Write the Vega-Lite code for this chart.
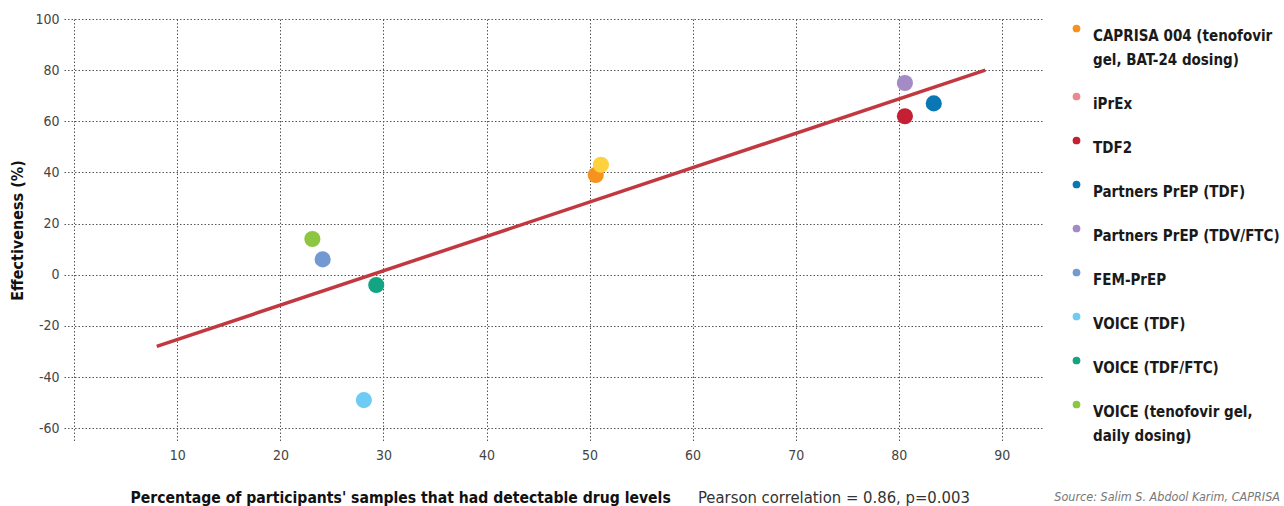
{
  "$schema": "https://vega.github.io/schema/vega-lite/v6.json",
  "width": 979,
  "height": 422,
  "padding": {"left": 9, "top": 12, "right": 0, "bottom": 0},
  "background": "white",
  "config": {
    "font": "DejaVu Sans Condensed, Roboto",
    "view": {"stroke": null},
    "style": {"guide-label": {"lineHeight": 24}},
    "axis": {
      "domain": false,
      "ticks": false,
      "grid": true,
      "gridColor": "#555555",
      "gridDash": [1.5, 2],
      "gridWidth": 1,
      "labelFont": "DejaVu Sans Condensed, Roboto",
      "labelFontSize": 14,
      "labelColor": "#444444",
      "titleFont": "DejaVu Sans Condensed, Roboto",
      "titleFontSize": 16,
      "titleFontWeight": "bold",
      "titleColor": "#111111"
    }
  },
  "title": {
    "text": "Pearson correlation = 0.86, p=0.003",
    "orient": "bottom",
    "anchor": "start",
    "dx": 688,
    "offset": -16,
    "font": "DejaVu Sans Condensed, Roboto",
    "fontSize": 16.5,
    "fontWeight": "normal",
    "color": "#333333"
  },
  "datasets": {
    "studies": [
      {"study": "CAPRISA 004 (tenofovir gel, BAT-24 dosing)", "detectable": 50.6, "effectiveness": 39},
      {"study": "iPrEx", "detectable": 51.1, "effectiveness": 43},
      {"study": "TDF2", "detectable": 80.6, "effectiveness": 62},
      {"study": "Partners PrEP (TDF)", "detectable": 83.4, "effectiveness": 67},
      {"study": "Partners PrEP (TDV/FTC)", "detectable": 80.6, "effectiveness": 75},
      {"study": "FEM-PrEP", "detectable": 24.1, "effectiveness": 6},
      {"study": "VOICE (TDF)", "detectable": 28.1, "effectiveness": -49},
      {"study": "VOICE (TDF/FTC)", "detectable": 29.3, "effectiveness": -4},
      {"study": "VOICE (tenofovir gel, daily dosing)", "detectable": 23.1, "effectiveness": 14}
    ],
    "fit": [
      {"detectable": 8, "effectiveness": -28},
      {"detectable": 88.4, "effectiveness": 80}
    ]
  },
  "layer": [
    {
      "data": {"name": "fit"},
      "mark": {"type": "line", "color": "#C1393F", "strokeWidth": 3.5},
      "encoding": {
        "x": {
          "field": "detectable",
          "type": "quantitative",
          "scale": {"domain": [-1, 94], "nice": false, "zero": false},
          "axis": {
            "values": [0, 10, 20, 30, 40, 50, 60, 70, 80, 90],
            "labelExpr": "datum.value == 0 ? '' : datum.label",
            "labelPadding": 7,
            "title": "Percentage of participants' samples that had detectable drug levels",
            "titleFontSize": 15.6,
            "titleAnchor": "start",
            "titleAlign": "left",
            "titleX": 66,
            "titleY": 61,
            "titleBaseline": "alphabetic"
          }
        },
        "y": {
          "field": "effectiveness",
          "type": "quantitative",
          "scale": {"domain": [-65, 100], "nice": false, "zero": false},
          "axis": {
            "values": [-60, -40, -20, 0, 20, 40, 60, 80, 100],
            "labelExpr": "replace(datum.label, '\u2212', '-')",
            "labelPadding": 5,
            "titlePadding": 9,
            "title": "Effectiveness (%)"
          }
        }
      }
    },
    {
      "data": {"name": "studies"},
      "mark": {"type": "circle", "size": 260, "opacity": 1},
      "encoding": {
        "x": {"field": "detectable", "type": "quantitative"},
        "y": {"field": "effectiveness", "type": "quantitative"},
        "color": {
          "field": "study",
          "type": "nominal",
          "scale": {
            "domain": ["CAPRISA 004 (tenofovir gel, BAT-24 dosing)", "iPrEx", "TDF2", "Partners PrEP (TDF)", "Partners PrEP (TDV/FTC)", "FEM-PrEP", "VOICE (TDF)", "VOICE (TDF/FTC)", "VOICE (tenofovir gel, daily dosing)"],
            "range": ["#F6921E", "#FDD23E", "#C51F33", "#0A77B5", "#A58BC6", "#7399D2", "#6DCBF4", "#13A583", "#8DC640"]
          },
          "legend": null
        }
      }
    },
    {
      "data": {"name": "studies"},
      "mark": {"type": "circle", "size": 0, "opacity": 1},
      "encoding": {
        "x": {"field": "detectable", "type": "quantitative"},
        "y": {"field": "effectiveness", "type": "quantitative"},
        "color": {
          "field": "study",
          "type": "nominal",
          "scale": {
            "domain": ["CAPRISA 004 (tenofovir gel, BAT-24 dosing)", "iPrEx", "TDF2", "Partners PrEP (TDF)", "Partners PrEP (TDV/FTC)", "FEM-PrEP", "VOICE (TDF)", "VOICE (TDF/FTC)", "VOICE (tenofovir gel, daily dosing)"],
            "range": ["#F6921E", "#E88A8F", "#C51F33", "#0A77B5", "#A58BC6", "#7399D2", "#6DCBF4", "#13A583", "#8DC640"]
          },
          "legend": {
            "orient": "right",
            "offset": 9,
            "padding": 2,
            "symbolSize": 60,
            "symbolType": "circle",
            "labelFont": "DejaVu Sans Condensed, Roboto",
            "labelFontSize": 15,
            "labelFontWeight": "bold",
            "labelColor": "#1a1a1a",
            "labelOffset": 9,
            "labelLimit": 400,
            "labelBaseline": "top",
            "rowPadding": 21,
            "labelExpr": "datum.label == 'CAPRISA 004 (tenofovir gel, BAT-24 dosing)' ? ['CAPRISA 004 (tenofovir', 'gel, BAT-24 dosing)'] : datum.label == 'VOICE (tenofovir gel, daily dosing)' ? ['VOICE (tenofovir gel,', 'daily dosing)'] : datum.label",
            "title": "Source: Salim S. Abdool Karim, CAPRISA",
            "titleLimit": 400,
            "titleOrient": "bottom",
            "titleAnchor": "end",
            "titlePadding": 47,
            "titleFont": "DejaVu Sans Condensed, Roboto",
            "titleFontSize": 12.5,
            "titleFontWeight": "normal",
            "titleFontStyle": "italic",
            "titleColor": "#777777"
          }
        }
      }
    }
  ],
  "resolve": {"scale": {"color": "independent"}}
}
